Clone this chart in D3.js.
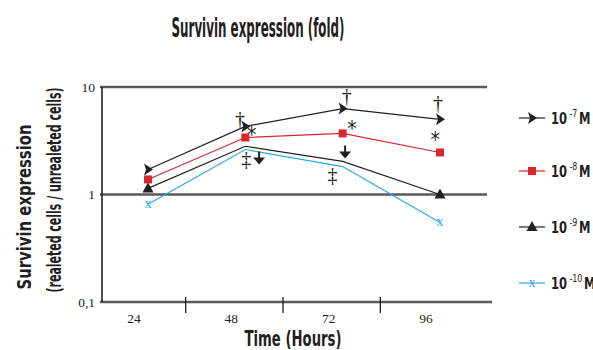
<!DOCTYPE html>
<html>
<head>
<meta charset="utf-8">
<script src="https://cdn.jsdelivr.net/npm/d3@7"></script>
<style>
  body { margin: 0; background: #fff; }
  svg { display: block; }
  .narrow { font-family: 'Liberation Sans Narrow', 'DejaVu Sans Condensed', 'Roboto', sans-serif; font-weight: bold; fill: #231f20; }
  .serif { font-family: 'Liberation Serif', 'DejaVu Serif', serif; fill: #231f20; }
</style>
</head>
<body>
<svg id="chart" width="593" height="350"></svg>
<script>
// DATA
const hours = [24, 48, 72, 96];
const xTickLabels = ['24', '48', '72', '96'];
const xTickBounds = [36, 60, 84];
const yTicks = [10, 1, 0.1];
const yTickLabels = ['10', '1', '0,1'];
const gridValues = [10, 1];

const exponents = ['-7', '-8', '-9', '-10'];
const conc7 = [1.71, 4.3, 6.3, 5.0];
const conc8 = [1.38, 3.39, 3.7, 2.46];
const conc9 = [1.14, 2.81, 2.03, 1.0];
const conc10 = [0.81, 2.62, 1.82, 0.55];
const markers7 = [true, true, true, true];
const markers8 = [true, true, true, true];
const markers9 = [true, false, false, true];
const markers10 = [true, false, false, true];

// significance symbols: hour, value (fold) where the symbol sits
const annHours = [46.7, 49.6, 48.2, 51.4, 73.0, 74.3, 72.6, 69.5, 95.5, 94.8];
const annValues = [5.0, 3.77, 2.16, 2.16, 8.2, 4.29, 2.46, 1.53, 7.17, 3.39];
const annSymbols = ['†', '*', '‡', 'down', '†', '*', 'down', '‡', '†', '*'];

const svg = d3.select('#chart');

const x = d3.scaleLinear().domain([24, 96]).range([148, 440]);
const y = d3.scaleLog().domain([0.1, 10]).range([302, 87]);

const series = [
    { exp: exponents[0], values: conc7, show: markers7, color: '#231f20', shape: 'arrow' },
    { exp: exponents[1], values: conc8, show: markers8, color: '#d7262c', shape: 'square' },
    { exp: exponents[2], values: conc9, show: markers9, color: '#231f20', shape: 'triangle' },
    { exp: exponents[3], values: conc10, show: markers10, color: '#27aae1', shape: 'x' }
];

// GRID + AXES
const g = svg.append('g');

g.selectAll('line.grid')
    .data(gridValues)
    .enter()
    .append('line')
    .attr('x1', 100)
    .attr('x2', 487)
    .attr('y1', d => y(d))
    .attr('y2', d => y(d))
    .attr('stroke', '#58595b')
    .attr('stroke-width', 2.5);

g.append('line')
    .attr('x1', 100).attr('x2', 492)
    .attr('y1', y(0.1)).attr('y2', y(0.1))
    .attr('stroke', '#58595b')
    .attr('stroke-width', 2.5);

g.append('line')
    .attr('x1', 102).attr('x2', 102)
    .attr('y1', y(10)).attr('y2', y(0.1))
    .attr('stroke', '#231f20')
    .attr('stroke-width', 1.6);

g.selectAll('text.ytick')
    .data(yTicks)
    .enter()
    .append('text')
    .attr('class', 'serif')
    .attr('x', 95)
    .attr('y', d => y(d) + 4.5)
    .attr('text-anchor', 'end')
    .attr('font-size', 13.5)
    .text((d, i) => yTickLabels[i]);

g.selectAll('line.xtick')
    .data(xTickBounds)
    .enter()
    .append('line')
    .attr('x1', d => x(d) - 11)
    .attr('x2', d => x(d) - 11)
    .attr('y1', y(0.1) - 5)
    .attr('y2', y(0.1) + 11)
    .attr('stroke', '#231f20')
    .attr('stroke-width', 1.3);

g.selectAll('text.xtick')
    .data(hours)
    .enter()
    .append('text')
    .attr('class', 'serif')
    .attr('x', d => x(d) - 14)
    .attr('y', 323)
    .attr('text-anchor', 'middle')
    .attr('font-size', 13.5)
    .text((d, i) => xTickLabels[i]);

// TITLES
svg.append('text')
    .attr('class', 'narrow')
    .attr('x', 258).attr('y', 37)
    .attr('text-anchor', 'middle')
    .attr('font-size', 26)
    .attr('textLength', 173)
    .attr('lengthAdjust', 'spacingAndGlyphs')
    .text('Survivin expression (fold)');

svg.append('text')
    .attr('class', 'narrow')
    .attr('x', 293).attr('y', 346)
    .attr('text-anchor', 'middle')
    .attr('font-size', 22)
    .attr('textLength', 97)
    .attr('lengthAdjust', 'spacingAndGlyphs')
    .text('Time (Hours)');

svg.append('text')
    .attr('class', 'narrow')
    .attr('transform', 'translate(31,207) rotate(-90)')
    .attr('text-anchor', 'middle')
    .attr('font-size', 19)
    .attr('textLength', 165)
    .attr('lengthAdjust', 'spacingAndGlyphs')
    .text('Survivin expression');

svg.append('text')
    .attr('class', 'narrow')
    .attr('transform', 'translate(61,190) rotate(-90)')
    .attr('text-anchor', 'middle')
    .attr('font-size', 19)
    .attr('textLength', 205)
    .attr('lengthAdjust', 'spacingAndGlyphs')
    .text('(realeted cells / unrealeted cells)');

// MARKERS
const arrowPath = 'M-4,-6 L5,0 L-4,6 L-2,0 Z';
const triPath = 'M0,-6 L5.5,4 L-5.5,4 Z';

function drawMarker(sel, s) {
    if (s.shape === 'arrow') {
        sel.append('path').attr('d', arrowPath).attr('fill', s.color);
    } else if (s.shape === 'square') {
        sel.append('rect').attr('x', -4).attr('y', -4).attr('width', 8).attr('height', 8).attr('fill', s.color);
    } else if (s.shape === 'triangle') {
        sel.append('path').attr('d', triPath).attr('fill', s.color);
    } else {
        sel.append('text')
            .attr('class', 'serif')
            .attr('text-anchor', 'middle')
            .attr('y', 4)
            .attr('font-size', 14)
            .style('fill', s.color)
            .text('x');
    }
}

// LINES
const line = d3.line()
    .x((d, i) => x(hours[i]))
    .y(d => y(d));

const plot = svg.append('g');

series.forEach(s => {
    plot.append('path')
        .attr('d', line(s.values))
        .attr('fill', 'none')
        .attr('stroke', s.color)
        .attr('stroke-width', 1.2);

    s.values.forEach((v, i) => {
        if (!s.show[i]) return;
        const m = plot.append('g').attr('transform', `translate(${x(hours[i])},${y(v)})`);
        drawMarker(m, s);
    });
});

// SIGNIFICANCE SYMBOLS
annSymbols.forEach((sym, i) => {
    const px = x(annHours[i]);
    const py = y(annValues[i]);
    if (sym === 'down') {
        plot.append('path')
            .attr('d', `M${px - 1},${py - 7} L${px + 1},${py - 7} L${px + 1},${py - 1} L${px + 6},${py - 1} L${px},${py + 6} L${px - 6},${py - 1} L${px - 1},${py - 1} Z`)
            .attr('fill', '#231f20');
    } else if (sym === '*') {
        plot.append('text')
            .attr('class', 'narrow')
            .attr('x', px).attr('y', py + 9)
            .attr('text-anchor', 'middle')
            .attr('font-size', 21)
            .style('font-weight', 'normal')
            .text(sym);
    } else {
        plot.append('text')
            .attr('class', 'serif')
            .attr('x', px).attr('y', py + 7)
            .attr('text-anchor', 'middle')
            .attr('font-size', 20)
            .text(sym);
    }
});

// LEGEND
const legendY = [118, 171, 227, 283];
const legend = svg.append('g');
series.forEach((s, i) => {
    const ly = legendY[i];
    const item = legend.append('g').attr('transform', `translate(0,${ly})`);
    item.append('line')
        .attr('x1', 519).attr('x2', 545)
        .attr('stroke', s.color)
        .attr('stroke-width', 1.2);
    drawMarker(item.append('g').attr('transform', 'translate(532,0)'), s);
    const t = item.append('text')
        .attr('class', 'narrow')
        .attr('transform', 'translate(551,6) scale(0.8,1)')
        .attr('font-size', 16);
    t.append('tspan').text('10');
    t.append('tspan').attr('dx', 3).attr('dy', -7).attr('font-size', 11).style('font-weight', 'normal').text(s.exp);
    t.append('tspan').attr('dx', 2).attr('dy', 7).text('M');
});
</script>
</body>
</html>
